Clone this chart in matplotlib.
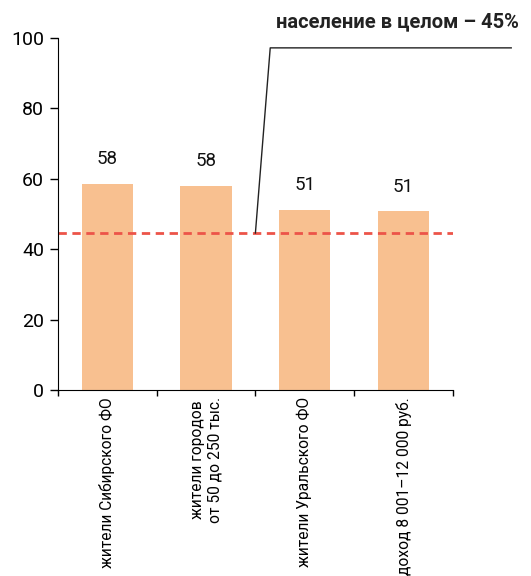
import matplotlib
matplotlib.use('Agg')
import matplotlib.pyplot as plt
from matplotlib import font_manager

names = {f.name for f in font_manager.fontManager.ttflist}
family = 'Roboto' if 'Roboto' in names else 'DejaVu Sans'
plt.rcParams['font.family'] = [family, 'DejaVu Sans']

categories = ['жители Сибирского ФО',
              'жители городов\nот 50 до 250 тыс.',
              'жители Уральского ФО',
              'доход 8 001–12 000 руб.']
values = [58.5, 58.0, 51.1, 50.8]
value_labels = ['58', '58', '51', '51']
overall = 44.6
overall_label = 'население в целом – 45%'

bar_color = '#F8C090'
line_color = '#EC5449'

fig = plt.figure(figsize=(5.31, 5.76), dpi=100)
ax = fig.add_axes([0.109, 0.323, 0.744, 0.611])

x = list(range(len(categories)))
ax.bar(x, values, width=0.52, color=bar_color, zorder=1)
for xi, v, lab in zip(x, values, value_labels):
    ax.text(xi, v + 7, lab, ha='center', va='center', fontsize=13.5, color='#111111')

ax.axhline(overall, color=line_color, lw=2, dashes=(3, 2), zorder=2)

# leader line to the caption
ax.plot([1.5, 1.65, 4.09], [overall, 97.2, 97.2], color='#222222', lw=1,
        clip_on=False, zorder=3)
ax.text(4.17, 104.5, overall_label, ha='right', va='center', fontsize=14.5,
        fontweight='bold', color='#222222', clip_on=False)

ax.set_xlim(-0.5, 3.5)
ax.set_ylim(0, 100)
ax.set_yticks(range(0, 101, 20))
ax.tick_params(axis='y', labelsize=14, length=6, width=1, pad=4)

ax.set_xticks([i + 0.5 for i in range(-1, len(categories))])
ax.set_xticklabels([])
ax.set_xticks(x, minor=True)
ax.set_xticklabels(categories, minor=True, rotation=90, fontsize=11.2,
                   multialignment='center')
ax.tick_params(axis='x', which='minor', length=0, pad=5)
ax.tick_params(axis='x', which='major', length=4, width=1)

for s in ['top', 'right']:
    ax.spines[s].set_visible(False)

fig.savefig('out.png', dpi=100)
